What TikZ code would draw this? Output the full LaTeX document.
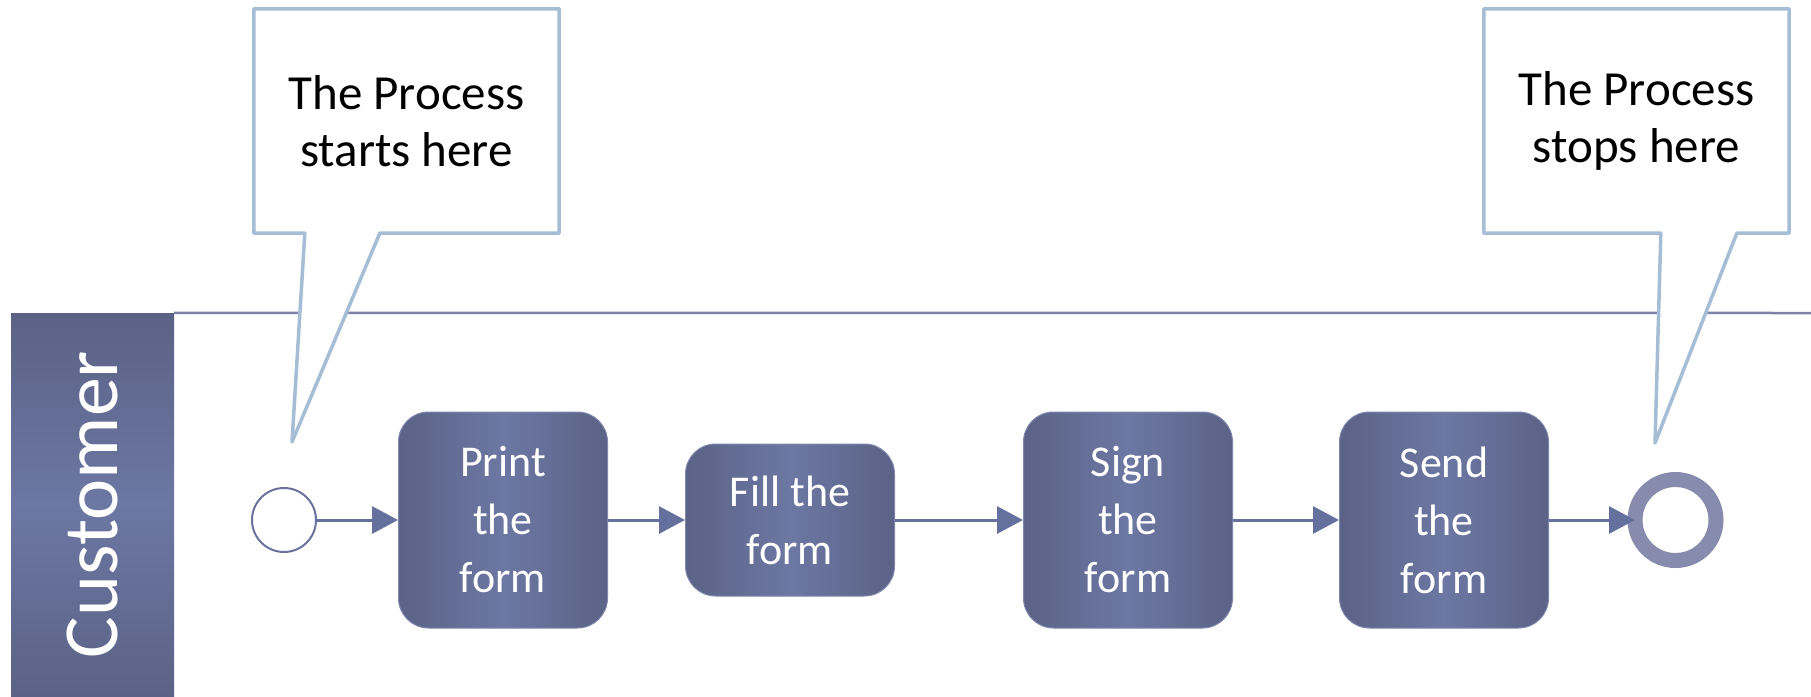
\documentclass[tikz,border=0pt]{standalone}
\usepackage{fontspec}
\setmainfont{Carlito}
\usetikzlibrary{arrows.meta, positioning, calc, backgrounds}
\definecolor{taskdark}{HTML}{5B6285}
\definecolor{tasklight}{HTML}{6C77A3}
\definecolor{taskedge}{HTML}{7F87AD}
\definecolor{flowc}{HTML}{66709E}
\definecolor{lanec}{HTML}{7C82A8}
\definecolor{notec}{HTML}{A5BDD5}
\definecolor{startc}{HTML}{6A72A0}
\definecolor{stopc}{HTML}{878BAD}

\begin{document}
\begin{tikzpicture}[x=1pt, y=-1pt,
    task/.style={rounded corners=30pt, draw=taskedge, line width=1pt,
      left color=taskdark, right color=taskdark, middle color=tasklight,
      text=white, align=center, minimum width=209pt, minimum height=216pt,
      inner sep=0pt, font=\fontsize{44}{58}\selectfont},
    flow/.style={draw=flowc, line width=3pt, -{Triangle[length=26pt, width=27pt]}},
    note/.style={align=center, minimum width=305pt, minimum height=224pt,
      inner sep=0pt, font=\fontsize{49}{57}\selectfont},
    noteline/.style={draw=notec, line width=3.5pt, fill=white, line join=round},
    laneline/.style={draw=lanec, line width=2.5pt},
    lanebox/.style={top color=taskdark, bottom color=taskdark, middle color=tasklight,
      minimum width=163pt, minimum height=383pt, inner sep=0pt}]
  \useasboundingbox (0,0) rectangle (1811,696);

  % swimlane
  \node[lanebox] (lane) at (92.5,504.5) {};
  \node[rotate=90, text=white, font=\fontsize{78}{90}\selectfont] (lanelabel) at (lane.center) {Customer};
  \coordinate (laneend) at (1811,313);

  % events and tasks
  \node[circle, draw=startc, line width=2pt, fill=white, minimum size=64pt, inner sep=0pt] (start) at (284,520) {};
  \node[task, right=81pt of start] (print) {Print\\the\\form};
  \node[task, minimum height=152pt, right=77pt of print] (fill) {Fill the\\form};
  \node[task, right=128pt of fill] (sign) {Sign\\the\\form};
  \node[task, right=106pt of sign] (send) {Send\\the\\form};
  \node[circle, draw=stopc, line width=15pt, fill=white, minimum size=81pt,
    inner sep=0pt, outer sep=0pt, right=86pt of send] (stop) {};

  \draw[flow] (start) -- (print);
  \draw[flow] (print) -- (fill);
  \draw[flow] (fill) -- (sign);
  \draw[flow] (sign) -- (send);
  \draw[flow] (send) -- (stop);

  % callouts
  \node[note] (startnote) at (406.5,121) {The Process\\starts here};
  \node[note] (stopnote) at (1636.5,121) {The Process\\stops here};
  \coordinate (starttip) at (292,442);
  \coordinate (stoptip) at (1655,443);

  \begin{scope}[on background layer]
    \draw[laneline] (lane.north east) -- (laneend);
    \draw[noteline] (startnote.north west) -| (startnote.south east)
      -- ($(startnote.south west)+(126,0)$) -- (starttip)
      -- ($(startnote.south west)+(51,0)$) -- (startnote.south west) -- cycle;
    \draw[noteline] (stopnote.north west) -| (stopnote.south east)
      -- ($(stopnote.south west)+(253,0)$) -- (stoptip)
      -- ($(stopnote.south west)+(177,0)$) -- (stopnote.south west) -- cycle;
  \end{scope}
\end{tikzpicture}
\end{document}
